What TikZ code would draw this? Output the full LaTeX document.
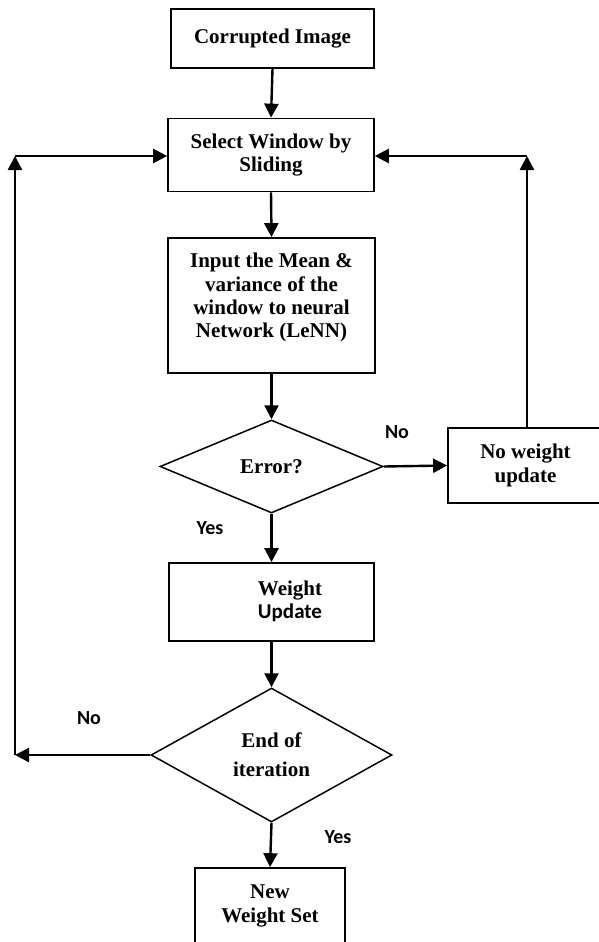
\documentclass[tikz,border=0pt]{standalone}
\usepackage{fontspec}
\setmainfont{Liberation Serif}
\newfontfamily\lblfont{Carlito}
\usetikzlibrary{arrows.meta,shapes.geometric}
\begin{document}
\begin{tikzpicture}[x=1pt,y=-1pt,
  box/.style={draw,line width=1.7pt,inner sep=0pt,align=center,font=\fontsize{21}{23.3}\selectfont\bfseries},
  dec/.style={draw,diamond,line width=1.5pt,inner sep=0pt,align=center,font=\fontsize{21}{29}\selectfont\bfseries},
  arr/.style={line width=2.4pt,-{Triangle[length=14pt,width=14pt]}},
  lbl/.style={inner sep=0pt,font=\lblfont\fontsize{20}{22}\selectfont\bfseries}]
\useasboundingbox (0,0) rectangle (599,942);
\node[box,minimum width=203pt,minimum height=59pt] (corr) at (272.5,38.5) {Corrupted Image};
\node[box,minimum width=206pt,minimum height=73pt] (sel) at (271,155) {Select Window by\\Sliding};
\node[box,minimum width=207pt,minimum height=135pt] (inp) at (271.5,305.5)
  {\begin{tabular}{@{}c@{}}Input the Mean \&\\variance of the\\window to neural\\Network (LeNN)\\[15pt]\end{tabular}};
\node[dec,minimum width=223pt,minimum height=93pt] (err) at (271.5,466.5) {Error?};
\node[box,minimum width=155pt,minimum height=75pt] (noup) at (525.5,465.5) {No weight\\update};
\node[box,minimum width=205pt,minimum height=78pt] (wup) at (271.5,602)
  {\hspace*{37pt}\begin{tabular}{@{}c@{}}Weight\\{\lblfont Update}\end{tabular}};
\node[dec,minimum width=241pt,minimum height=134pt] (end) at (271.5,755) {End of\\iteration};
\node[box,minimum width=150pt,minimum height=76pt] (new) at (270,906) {New\\Weight Set};

\coordinate (L1) at (15,755);
\coordinate (L2) at (15,156);
\coordinate (R1) at (527,156);

\draw[arr] (corr.south) -- (sel.north);
\draw[arr] (sel.south) -- (inp.north);
\draw[arr] (inp.south) -- (err.north);
\draw[arr] (err.east) -- (noup.west);
\draw[arr] (err.south) -- (wup.north);
\draw[arr] (wup.south) -- (end.north);
\draw[arr] (end.south) -- (new.north);

\draw[arr] (end.west) -- (L1);
\draw[arr] (L1) -- (L2);
\draw[arr] (L2) -- (L2 -| sel.west);
\draw[arr] (R1 |- noup.north) -- (R1);
\draw[arr] (R1) -- (R1 -| sel.east);

\node[lbl] (lno1) at (397,432) {No};
\node[lbl] (lyes1) at (210,528) {Yes};
\node[lbl] (lno2) at (89,718) {No};
\node[lbl] (lyes2) at (338,837) {Yes};
\end{tikzpicture}
\end{document}
